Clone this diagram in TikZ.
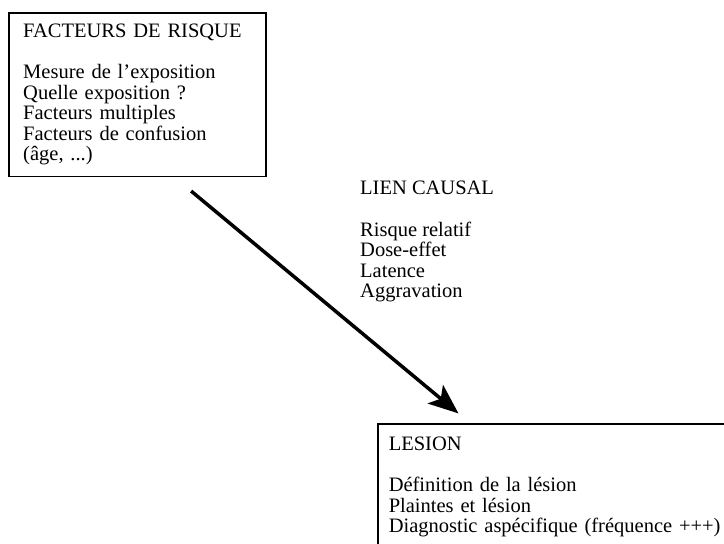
\documentclass[tikz,border=0pt]{standalone}
\usepackage{fontspec}
\setmainfont{Liberation Serif}
\usepackage{tikz}
\usetikzlibrary{arrows.meta}

\tikzset{
  block/.style={draw, line width=1.5pt, align=left, anchor=north west},
  bodytext/.style={font=\fontsize{20.5}{20.5}\selectfont}
}

\begin{document}
\begin{tikzpicture}[x=1pt, y=-1pt, bodytext]
  \useasboundingbox (0,0) rectangle (724,544);
  \clip (0,0) rectangle (724,544);

  \node at (8,12) [block,inner xsep=14.5pt,inner ysep=11pt,text width=228pt] (risque) {
    FACTEURS DE RISQUE\\[21pt]
    Mesure de l’exposition\\
    Quelle exposition ?\\
    Facteurs multiples\\
    Facteurs de confusion\\
    (âge, ...)
  };

  \node at (360,181) [align=left,anchor=north west,inner sep=0pt] (causal) {
    LIEN CAUSAL\\[21pt]
    Risque relatif\\
    Dose-effet\\
    Latence\\
    Aggravation
  };

  \node at (377,423) [block,inner xsep=11pt,inner ysep=13pt,text width=360pt] (lesion) {
    LESION\\[21pt]
    Définition de la lésion\\
    Plaintes et lésion\\
    Diagnostic aspécifique (fréquence +++)
  };

  \draw[-{Stealth[length=30pt,width=24pt,inset=7pt]}, line width=3.5pt, shorten <=22pt, shorten >=15pt]
    ([xshift=37pt]risque.south) -- ([xshift=93pt]lesion.north west);
\end{tikzpicture}
\end{document}
